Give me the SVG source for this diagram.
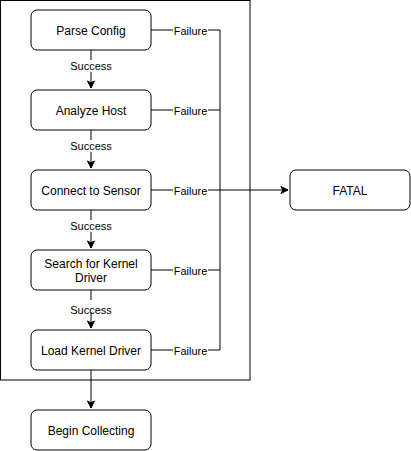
<svg xmlns="http://www.w3.org/2000/svg" width="411" height="451" viewBox="0 0 411 451">
<style>
.n{fill:#fff;stroke:#000;stroke-width:1}
.t{font-family:"Liberation Sans",Arial,sans-serif;font-size:12px;fill:#000;text-anchor:middle;dominant-baseline:central}
.l{font-family:"Liberation Sans",Arial,sans-serif;font-size:11px;fill:#000;text-anchor:middle;dominant-baseline:central}
.e{fill:none;stroke:#000;stroke-width:1}
.lb{fill:#fff}
</style>
<defs>
<marker id="a" markerWidth="10" markerHeight="10" viewBox="0 0 10 10" refX="8" refY="5" orient="auto" markerUnits="userSpaceOnUse">
<path d="M8,5 L1,1.5 L2.75,5 L1,8.5 Z" fill="#000" stroke="#000" stroke-width="1"/>
</marker>
</defs>
<rect id="container" x="0.5" y="0.5" width="249.5" height="379.5" fill="#fff" stroke="#000"/>
<g id="connectors">
<path class="e" d="M91,50 V88" marker-end="url(#a)"/>
<path class="e" d="M91,130 V168" marker-end="url(#a)"/>
<path class="e" d="M91,210 V248" marker-end="url(#a)"/>
<path class="e" d="M91,290 V328" marker-end="url(#a)"/>
<path class="e" d="M91,370 V408" marker-end="url(#a)"/>
<path class="e" d="M151,30 H220 V350 H151"/>
<path class="e" d="M151,110 H220"/>
<path class="e" d="M151,270 H220"/>
<path class="e" d="M151,190 H288" marker-end="url(#a)"/>
<g>
<rect class="lb" x="70" y="60" width="42" height="12"/><text class="l" x="91" y="66">Success</text>
<rect class="lb" x="70" y="140" width="42" height="12"/><text class="l" x="91" y="146">Success</text>
<rect class="lb" x="70" y="220" width="42" height="12"/><text class="l" x="91" y="226">Success</text>
<rect class="lb" x="70" y="300" width="42" height="12"/><text class="l" x="91" y="310">Success</text>
<rect class="lb" x="173" y="24" width="35" height="12"/><text class="l" x="190.5" y="31">Failure</text>
<rect class="lb" x="173" y="104" width="35" height="12"/><text class="l" x="190.5" y="111">Failure</text>
<rect class="lb" x="173" y="184" width="35" height="12"/><text class="l" x="190.5" y="191">Failure</text>
<rect class="lb" x="173" y="264" width="35" height="12"/><text class="l" x="190.5" y="271">Failure</text>
<rect class="lb" x="173" y="344" width="35" height="12"/><text class="l" x="190.5" y="351">Failure</text>
</g>
</g>
<g id="parse"><rect class="n" x="31" y="10" width="120" height="40" rx="6"/><text class="t" x="91" y="31">Parse Config</text></g>
<g id="analyze"><rect class="n" x="31" y="90" width="120" height="40" rx="6"/><text class="t" x="91" y="111">Analyze Host</text></g>
<g id="connect"><rect class="n" x="31" y="170" width="120" height="40" rx="6"/><text class="t" x="91" y="191">Connect to Sensor</text></g>
<g id="search"><rect class="n" x="31" y="250" width="120" height="40" rx="6"/><text class="t" x="91" y="264">Search for Kernel</text><text class="t" x="91" y="278">Driver</text></g>
<g id="load"><rect class="n" x="31" y="330" width="120" height="40" rx="6"/><text class="t" x="91" y="351">Load Kernel Driver</text></g>
<g id="begin"><rect class="n" x="31" y="410" width="120" height="40" rx="6"/><text class="t" x="91" y="431">Begin Collecting</text></g>
<g id="fatal"><rect class="n" x="290" y="170" width="120" height="40" rx="6"/><text class="t" x="350" y="191">FATAL</text></g>
</svg>
